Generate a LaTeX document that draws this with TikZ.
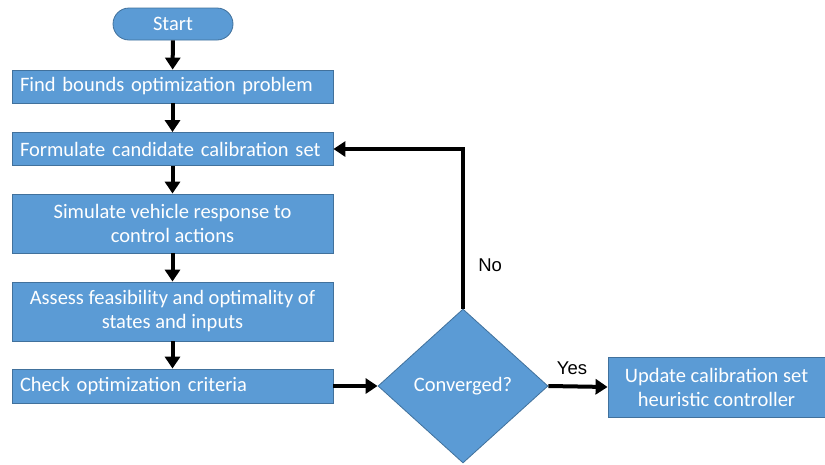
\documentclass[tikz,border=0pt]{standalone}
\usepackage{fontspec}
\setmainfont{Carlito}
\newfontfamily\labelfont{Liberation Sans}
\usetikzlibrary{arrows.meta}
\usetikzlibrary{shapes.geometric}

\definecolor{boxfill}{HTML}{5B9BD5}
\definecolor{boxline}{HTML}{41719C}

\tikzset{
	stepbox/.style={rectangle, draw=boxline, fill=boxfill, line width=0.8pt, text=white, font=\fontsize{20.5}{24}\selectfont, minimum width=321pt, minimum height=33pt, inner sep=0pt},
	flow/.style={-{Triangle[width=15pt,length=12pt]}, line width=4pt, black},
	answer/.style={font=\labelfont\fontsize{18.5}{22}\selectfont, text=black},
}

\begin{document}
\begin{tikzpicture}[x=1pt,y=-1pt]
	\useasboundingbox (0,0) rectangle (825,464);

	\node[stepbox, rounded corners=16pt, minimum width=120pt, minimum height=32pt] (start) at (173,24) {Start};
	\node[stepbox, text width=305pt, align=left] (bounds) at (172.5,86.5) {Find bounds optimization problem};
	\node[stepbox, text width=305pt, align=left] (formulate) at (172.5,149) {Formulate candidate calibration set};
	\node[stepbox, align=center, minimum height=59pt] (simulate) at (172.5,223.5) {Simulate vehicle response to\\control actions};
	\node[stepbox, align=center, minimum height=59pt] (assess) at (172.5,311.5) {Assess feasibility and optimality of\\states and inputs};
	\node[stepbox, text width=305pt, align=left, minimum height=34pt] (check) at (172.5,386) {Check optimization criteria};

	\node[stepbox, diamond, minimum width=170pt, minimum height=154pt] (conv) at (463,386) {Converged?};
	\node[stepbox, align=center, minimum width=217pt, minimum height=60pt] (update) at (716.5,387) {Update calibration set\\heuristic controller};

	% main chain
	\draw[flow] (start) -- (bounds);
	\draw[flow] (bounds) -- (formulate);
	\draw[flow] (formulate) -- (simulate);
	\draw[flow] (simulate) -- (assess);
	\draw[flow] (assess) -- (check);
	\draw[flow] (check) -- (conv);

	\draw[flow] (conv.east) -- node[answer, above=6pt, pos=0.4] {Yes} (update.west);
	\draw[flow] (conv.north) -- node[answer, right=10pt, pos=0.27] {No} (conv.north |- formulate.east) -- (formulate.east);

\end{tikzpicture}
\end{document}
